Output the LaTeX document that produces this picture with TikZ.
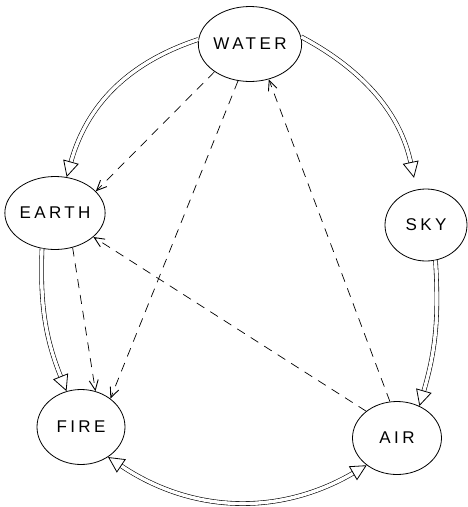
\documentclass[tikz,border=0pt]{standalone}
\usepackage{fontspec}
\newfontfamily\elemfont[LetterSpace=20]{Liberation Sans}
\usetikzlibrary{shapes.geometric,arrows.meta}
\tikzset{
  element/.style={ellipse, draw, line width=0.8pt, inner sep=0pt,
    font=\elemfont\fontsize{17}{20}\selectfont},
  hollow/.tip={Triangle[open, length=16pt, width=16pt, line width=0.8pt]},
  flow/.style={double, line width=0.6pt, double distance=3.4pt, -hollow},
  hint/.style={line width=0.7pt, dash pattern=on 9pt off 7pt,
    -{Straight Barb[length=10pt,width=9pt,line width=0.9pt]}}
}
\begin{document}
\begin{tikzpicture}[x=1pt,y=-1pt]
    \useasboundingbox (0,0) rectangle (468,507);
    % Define the elements
    \node[element, minimum width=91pt, minimum height=75pt] (water) at (250,44) {WATER};
    \node[element, minimum width=90pt, minimum height=73pt] (earth) at (55,213) {EARTH};
    \node[element, minimum width=82pt, minimum height=72pt] (sky) at (426,225) {SKY};
    \node[element, minimum width=88pt, minimum height=75pt] (fire) at (81,427) {FIRE};
    \node[element, minimum width=89pt, minimum height=73pt] (air) at (397,438) {AIR};
    % Outer cycle with double arrows
    \draw[flow] (water.175) to[bend right=28] (earth.72);
    \draw[flow, shorten >=12pt] (water.8) to[bend left=25] (sky.105);
    \draw[flow] (earth.-110) to[bend right=12] (fire.112);
    \draw[flow] (sky.-75) to[bend left=10] (air.55);
    \draw[flow, hollow-hollow] (fire.-48) to[bend right=32] (air.-138);
    % Dashed arrows across
    \draw[hint] (water.218) -- (earth.28);
    \draw[hint] (water.252) -- (fire.44);
    \draw[hint] (earth.-63) -- (fire.68);
    \draw[hint] (air.101) -- (water.-62);
    \draw[hint] (air.139) -- (earth.-32);
\end{tikzpicture}
\end{document}
